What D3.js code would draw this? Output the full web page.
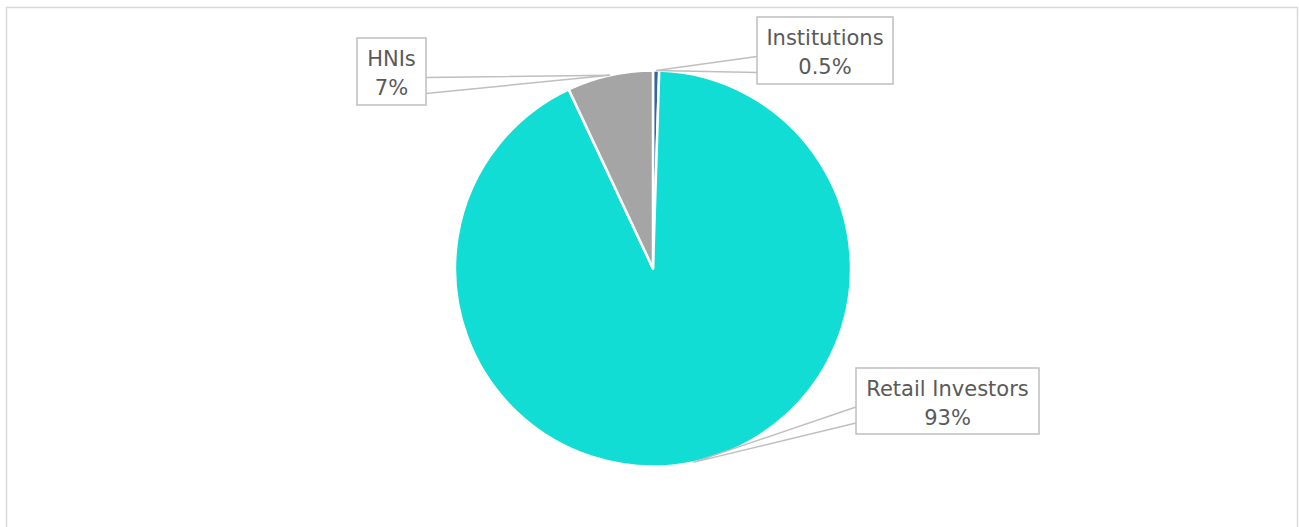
<!DOCTYPE html>
<html lang="en">
    <head>
        <meta charset="utf-8">
        <title>Investor mix</title>
        <script src="https://d3js.org/d3.v7.min.js"></script>
        <style>
            body { margin: 0; background: white; }
            text { font-family: "DejaVu Sans", Verdana, sans-serif; fill: #595959; }
        </style>
    </head>
    <body>
        <script type="text/javascript">

            // data, clockwise from 12 o'clock
            var categories = ["Institutions", "Retail Investors", "HNIs"];
            var values = [0.5, 92.5, 7];
            var pctLabels = ["0.5%", "93%", "7%"];
            var colors = ["#36679a", "#11ddd4", "#a5a5a5"];

            var width = 1299, height = 527;
            var cx = 653, cy = 268.5, radius = 198;

            // callout boxes (layout only): x, y, w, h, which side the pointer leaves from
            var boxes = [
                { x: 757, y: 17, w: 136, h: 67, side: "left" },
                { x: 856, y: 368, w: 183, h: 66, side: "left" },
                { x: 357, y: 38, w: 69, h: 67, side: "right" }
            ];

            var svg = d3.select("body")
                .append("svg")
                .attr("width", width)
                .attr("height", height);

            // chart frame
            svg.append("rect")
                .attr("x", 6.5).attr("y", 7.5)
                .attr("width", 1291).attr("height", 600)
                .attr("fill", "none")
                .attr("stroke", "#d9d9d9")
                .attr("stroke-width", 1.5);

            var pie = d3.pie().sort(null).value(d => d.value);
            var arc = d3.arc().innerRadius(0).outerRadius(radius);

            var data = categories.map((c, i) => ({ name: c, value: values[i], label: pctLabels[i], color: colors[i], box: boxes[i] }));
            var arcs = pie(data);

            var g = svg.append("g")
                .attr("transform", `translate(${cx},${cy})`);

            g.selectAll("path")
                .data(arcs)
                .enter()
                .append("path")
                .attr("d", arc)
                .attr("fill", d => d.data.color)
                .attr("stroke", "white")
                .attr("stroke-width", 2.5)
                .attr("stroke-linejoin", "round");

            // callouts
            var callouts = svg.selectAll("g.callout")
                .data(arcs)
                .enter()
                .append("g")
                .attr("class", "callout");

            callouts.append("path")
                .attr("d", function(d) {
                    var mid = (d.startAngle + d.endAngle) / 2;
                    var tx = cx + radius * Math.sin(mid);
                    var ty = cy - radius * Math.cos(mid);
                    var b = d.data.box;
                    var bx = b.side === "left" ? b.x : b.x + b.w;
                    var y1 = b.y + b.h / 2 + 6, y2 = b.y + b.h / 2 + 22;
                    return `M${bx},${y1}L${tx},${ty}L${bx},${y2}`;
                })
                .attr("fill", "none")
                .attr("stroke", "#bfbfbf")
                .attr("stroke-width", 1.5);

            callouts.append("rect")
                .attr("x", d => d.data.box.x)
                .attr("y", d => d.data.box.y)
                .attr("width", d => d.data.box.w)
                .attr("height", d => d.data.box.h)
                .attr("fill", "white")
                .attr("stroke", "#bfbfbf")
                .attr("stroke-width", 1.5);

            callouts.append("text")
                .attr("x", d => d.data.box.x + d.data.box.w / 2)
                .attr("y", d => d.data.box.y + 28)
                .attr("text-anchor", "middle")
                .style("font-size", "21px")
                .text(d => d.data.name);

            callouts.append("text")
                .attr("x", d => d.data.box.x + d.data.box.w / 2)
                .attr("y", d => d.data.box.y + 57)
                .attr("text-anchor", "middle")
                .style("font-size", "21px")
                .text(d => d.data.label);

        </script>
    </body>
</html>
